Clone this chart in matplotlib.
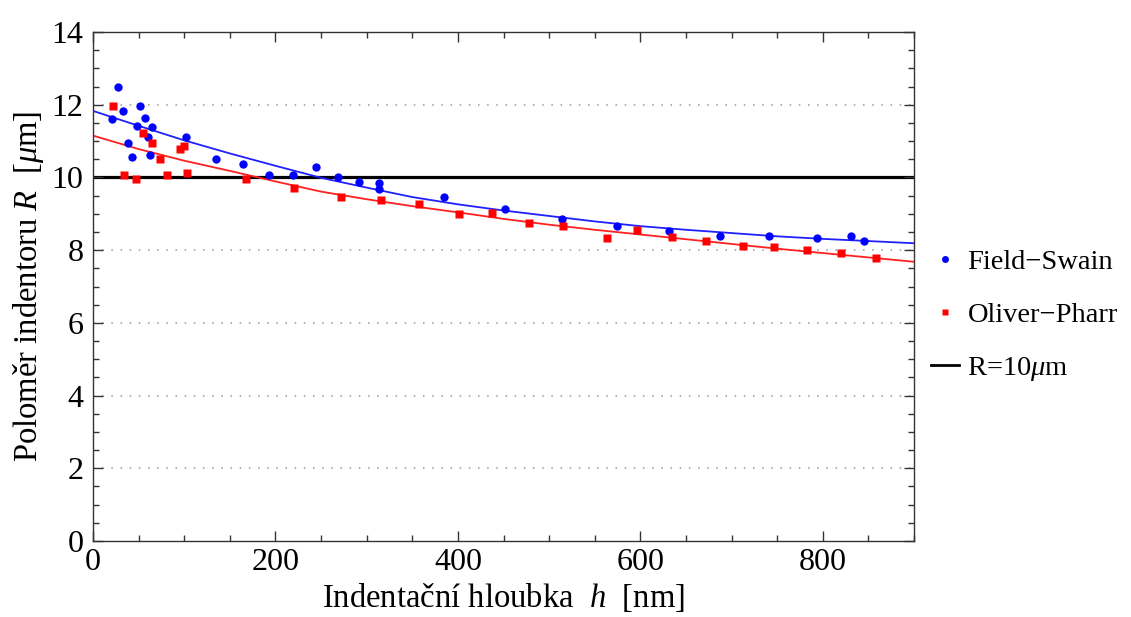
import numpy as np
import matplotlib
matplotlib.use("Agg")
import matplotlib.pyplot as plt
from matplotlib.ticker import MultipleLocator
from matplotlib.lines import Line2D

plt.rcParams['font.family'] = ['Liberation Serif', 'DejaVu Serif']
plt.rcParams['mathtext.fontset'] = 'custom'
plt.rcParams['mathtext.rm'] = 'Liberation Serif'
plt.rcParams['mathtext.it'] = 'Liberation Serif:italic'

# Field-Swain (modré body)
fs_h = [20.5, 27.7, 33.2, 38, 42.4, 47.9, 51.5, 57, 60.6, 62.5, 64.3, 101.6,
        134.5, 164.7, 192.9, 219.5, 244, 268.9, 291.5, 313.4, 313.4, 384.7,
        451.5, 513.6, 573.9, 631.6, 687.1, 740.8, 793.8, 831.4, 845.3]
fs_R = [11.61, 12.49, 11.83, 10.96, 10.57, 11.41, 11.96, 11.63, 11.12, 10.62,
        11.38, 11.12, 10.50, 10.37, 10.06, 10.07, 10.30, 10.02, 9.88, 9.84,
        9.67, 9.47, 9.12, 8.86, 8.67, 8.53, 8.39, 8.39, 8.34, 8.40, 8.25]

# Oliver-Pharr (červené body)
op_h = [21.6, 34.3, 47.1, 54.4, 64.3, 73.4, 80.8, 95.3, 100.1, 103.3, 167.7,
        220.3, 271.4, 315.3, 357.6, 401.1, 436.9, 478.1, 514.7, 564, 595.8,
        634.2, 671.8, 712.7, 746.7, 783.2, 820.5, 857.8]
op_R = [11.96, 10.08, 9.96, 11.23, 10.95, 10.50, 10.08, 10.79, 10.86, 10.12,
        9.96, 9.70, 9.45, 9.38, 9.26, 9.00, 9.01, 8.75, 8.66, 8.34, 8.55,
        8.37, 8.25, 8.12, 8.08, 8.00, 7.91, 7.79]

# fitované křivky
fit_h = [0, 50, 100, 150, 200, 250, 300, 350, 400, 450, 500, 550, 600, 650,
         700, 750, 800, 850, 900]
fit_fs = [11.83, 11.42, 11.02, 10.66, 10.32, 9.99, 9.72, 9.46, 9.26, 9.09,
          8.94, 8.79, 8.66, 8.56, 8.47, 8.38, 8.31, 8.25, 8.19]
fit_op = [11.15, 10.78, 10.46, 10.18, 9.89, 9.61, 9.40, 9.21, 9.04, 8.86,
          8.70, 8.56, 8.43, 8.30, 8.17, 8.04, 7.92, 7.80, 7.68]

R_ref = 10

fig = plt.figure(figsize=(11.31, 6.17), dpi=100)
ax = fig.add_axes([93/1131, 1 - 541/617, (914-93)/1131, (541-32)/617])

for y in [2, 4, 6, 8, 12]:
    ax.axhline(y, color='#999999', linestyle=(0, (1, 5)), lw=1.1, zorder=0)

ax.axhline(R_ref, color='black', lw=2.3, zorder=1)
ax.plot(fit_h, fit_fs, color='#2020ff', lw=1.3, zorder=2)
ax.plot(fit_h, fit_op, color='#ff2020', lw=1.3, zorder=2)
ax.plot(fs_h, fs_R, 'o', color='#0000ff', ms=6, mec='none', zorder=3)
ax.plot(op_h, op_R, 's', color='#ff0000', ms=5.5, mec='none', zorder=3)

ax.set_xlim(0, 900)
ax.set_ylim(0, 14)
ax.xaxis.set_major_locator(MultipleLocator(200))
ax.xaxis.set_minor_locator(MultipleLocator(50))
ax.yaxis.set_major_locator(MultipleLocator(2))
ax.yaxis.set_minor_locator(MultipleLocator(0.5))
ax.tick_params(which='both', direction='in', top=True, right=True, labelsize=23,
               width=1, color='#333333')
ax.tick_params(which='major', length=7)
ax.tick_params(which='minor', length=4)
ax.tick_params(axis='x', pad=5)
ax.tick_params(axis='y', pad=7)
for s in ax.spines.values():
    s.set_color('#333333')
    s.set_linewidth(1)

ax.set_xlabel(r"Indentační hloubka  $h$  [nm]", fontsize=23.5, labelpad=3)
ax.set_ylabel(r"Poloměr indentoru $R$  [$\mu$m]", fontsize=23.5, labelpad=4)

handles = [
    Line2D([], [], marker='o', color='#0000ff', ls='none', ms=5, mec='none'),
    Line2D([], [], marker='s', color='#ff0000', ls='none', ms=4.5, mec='none'),
    Line2D([], [], color='black', lw=2),
]
fig.legend(handles, ["Field\u2212Swain", "Oliver\u2212Pharr", r"R=10$\mu$m"],
           loc='center left', bbox_to_anchor=(931/1131, 1 - 316/617),
           frameon=False, fontsize=20.5, handlelength=1.0, handletextpad=0.28,
           labelspacing=0.95, borderpad=0, borderaxespad=0)

fig.savefig("out.png", dpi=100)
